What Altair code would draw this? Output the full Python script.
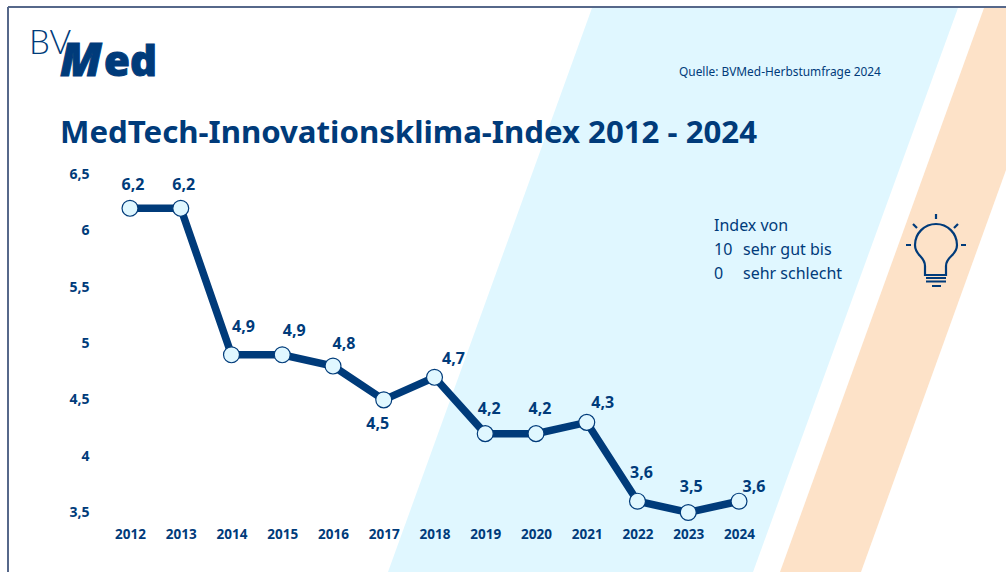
import altair as alt
import pandas as pd

years = [2012, 2013, 2014, 2015, 2016, 2017, 2018, 2019, 2020, 2021, 2022, 2023, 2024]
index_values = [6.2, 6.2, 4.9, 4.9, 4.8, 4.5, 4.7, 4.2, 4.2, 4.3, 3.6, 3.5, 3.6]
y_ticks = [3.5, 4, 4.5, 5, 5.5, 6, 6.5]

W, H = 1006, 572
NAVY = "#003b7a"
SKY = "#e0f7ff"
PEACH = "#fde2c8"
FRAME = "#56688a"
FONT = "Noto Sans"

# Horizontal and vertical pixel scale of the plot, spanning the whole canvas
PX_PER_YEAR = 50.75
PX_PER_UNIT = 112.67
BASE_Y = 512.5
x_domain = [2012 - 130 / PX_PER_YEAR, 2012 + (W - 130) / PX_PER_YEAR]
y_domain = [3.5 - (H - BASE_Y) / PX_PER_UNIT, 3.5 + BASE_Y / PX_PER_UNIT]

# Per-label nudge, in pixels, so that the value labels clear the line
label_nudge = {
    2012: (3, -23), 2013: (3, -23), 2014: (12, -28), 2015: (12, -24),
    2016: (11, -22), 2017: (-6, 24), 2018: (19, -18), 2019: (4, -25),
    2020: (4, -25), 2021: (16, -19), 2022: (4, -28), 2023: (3, -26),
    2024: (15, -14),
}

df = pd.DataFrame({"year": years, "value": index_values})
df["label"] = [f"{v:.1f}".replace(".", ",") for v in index_values]
df["label_x"] = [y + label_nudge[y][0] / PX_PER_YEAR for y in years]
df["label_y"] = [v - label_nudge[y][1] / PX_PER_UNIT for y, v in zip(years, index_values)]

one_row = alt.Data(values=[{}])
x_enc = alt.X(
    "year:Q",
    scale=alt.Scale(domain=x_domain, nice=False, zero=False),
    axis=alt.Axis(
        values=years, format="d", title=None, grid=False, domain=False, ticks=False,
        labelFont=FONT, labelFontWeight="bold", labelFontSize=13.5, labelColor=NAVY,
        labelPadding=0, offset=-45, zindex=1, labelFlush=False, labelOverlap=False,
    ),
)
y_enc = alt.Y(
    "value:Q",
    scale=alt.Scale(domain=y_domain, nice=False, zero=False),
    axis=alt.Axis(
        values=y_ticks, title=None, grid=False, domain=False, ticks=False,
        labelExpr="replace(format(datum.value, '~g'), '.', ',')",
        labelFont=FONT, labelFontWeight="bold", labelFontSize=14, labelColor=NAVY,
        labelPadding=0, offset=-89, zindex=1, labelFlush=False, labelOverlap=False,
    ),
)


def shape_layer(path, **mark):
    # A symbol of size 4 draws its path at 1:1 in canvas pixels
    return alt.Chart(one_row).mark_point(shape=path, size=4, opacity=1, **mark).encode(
        x=alt.value(0), y=alt.value(0)
    )


def text_layer(text, x, y, size, weight="normal", color=NAVY, italic=False, font=FONT,
               baseline="middle", **mark):
    return alt.Chart(one_row).mark_text(
        text=text, font=font, fontSize=size, fontWeight=weight, color=color,
        align="left", baseline=baseline, fontStyle="italic" if italic else "normal", **mark,
    ).encode(x=alt.value(x), y=alt.value(y))


sky_band = shape_layer("M592,8L958,8L753,572L388,572Z", filled=True, fill=SKY, stroke=SKY, strokeWidth=0)
peach_band = shape_layer("M984,8L1006,8L1006,170L861,572L780,572Z", filled=True, fill=PEACH, stroke=PEACH, strokeWidth=0)

frame_top = alt.Chart(one_row).mark_rule(color=FRAME, strokeWidth=2).encode(
    x=alt.value(8), x2=alt.value(W), y=alt.value(7)
)
frame_left = alt.Chart(one_row).mark_rule(color=FRAME, strokeWidth=2).encode(
    x=alt.value(8), y=alt.value(7), y2=alt.value(H)
)

bulb = shape_layer(
    "M925,266C925,256 915,256 915,245A21,21 0 0 1 957,245C957,256 946,256 946,266L946,275L925,275Z"
    "M926,278L946,278M926,281.5L946,281.5M932,286L941,286"
    "M936,214L936,219M906,245L911,245M961,245L966,245M913,224L917,228M958,224L954,228",
    filled=False, stroke=NAVY, strokeWidth=2.2,
)

line = alt.Chart(df).mark_line(color=NAVY, strokeWidth=7.5, strokeJoin="miter").encode(x=x_enc, y=y_enc)
dots = alt.Chart(df).mark_point(
    filled=True, fill=SKY, stroke=NAVY, strokeWidth=1.2, size=254, opacity=1
).encode(x="year:Q", y="value:Q")
value_labels = alt.Chart(df).mark_text(
    font=FONT, fontWeight="bold", fontSize=16, color=NAVY
).encode(x="label_x:Q", y="label_y:Q", text="label:N")

chart = alt.layer(
    sky_band, peach_band, frame_top, frame_left, line, dots, value_labels, bulb,
    text_layer("BV", 29, 44, 33, weight=300, font="Lato"),
    text_layer("M", 60, 76, 46, weight=800, italic=True, font="Open Sans", baseline="alphabetic",
               stroke=NAVY, strokeWidth=1),
    text_layer("ed", 104, 76, 42, weight=800, font="Open Sans", baseline="alphabetic",
               stroke=NAVY, strokeWidth=1),
    text_layer("MedTech-Innovationsklima-Index 2012 - 2024", 60, 134, 31.2, weight="bold"),
    text_layer("Quelle: BVMed-Herbstumfrage 2024", 679, 72, 11.9),
    text_layer("Index von", 714, 226, 16),
    text_layer("10", 714, 250, 16),
    text_layer("sehr gut bis", 743, 250, 16),
    text_layer("0", 714, 274, 16),
    text_layer("sehr schlecht", 743, 274, 16),
).properties(
    width=W, height=H, padding=0, autosize=alt.AutoSizeParams(type="none"), background="white"
).configure_view(stroke=None)

chart.save("out.html", embed_options={"renderer": "svg", "actions": False})
